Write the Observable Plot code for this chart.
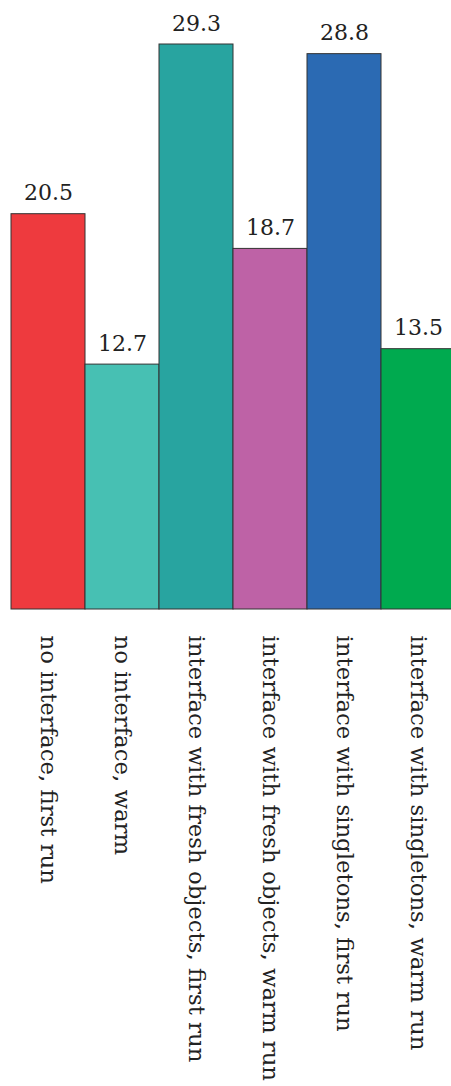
<!DOCTYPE html>
<html><head><meta charset="utf-8">
<script src="https://cdn.jsdelivr.net/npm/d3@7"></script>
<script src="https://cdn.jsdelivr.net/npm/@observablehq/plot@0.6"></script>
<style>body{margin:0;background:#fff}</style>
</head><body><div id="chart"></div>
<script>
const categories = ["no interface, first run","no interface, warm","interface with fresh objects, first run","interface with fresh objects, warm run","interface with singletons, first run","interface with singletons, warm run"];
const values = [20.5, 12.7, 29.3, 18.7, 28.8, 13.5];
const colors = ["#EE3A3E","#47C0B3","#28A4A0","#BE62A6","#2B6AB3","#00AA4F"];
const data = categories.map((c,i)=>({c, v: values[i]}));
const font = "DejaVu Serif";
const chart = Plot.plot({
  width: 451, height: 1086,
  marginLeft: 11, marginRight: -4, marginTop: 44, marginBottom: 477,
  style: {fontFamily: font, background: "#fff"},
  x: {domain: categories, padding: 0, label: null},
  y: {domain: [0, 29.3], axis: null},
  color: {domain: categories, range: colors},
  marks: [
    Plot.barY(data, {x: "c", y: "v", fill: "c", stroke: "#333", strokeWidth: 1}),
    Plot.text(data, {x: "c", y: "v", text: d => d.v.toFixed(1), lineAnchor: "bottom", dy: -14, fontSize: 22, fill: "#222", fontFamily: font}),
    Plot.axisX({tickRotate: 90, tickSize: 0, tickPadding: 26, fontSize: 22.8, fontFamily: font, color: "#222", label: null, textAnchor: "start"})
  ]
});
document.getElementById("chart").append(chart);
</script></body></html>
